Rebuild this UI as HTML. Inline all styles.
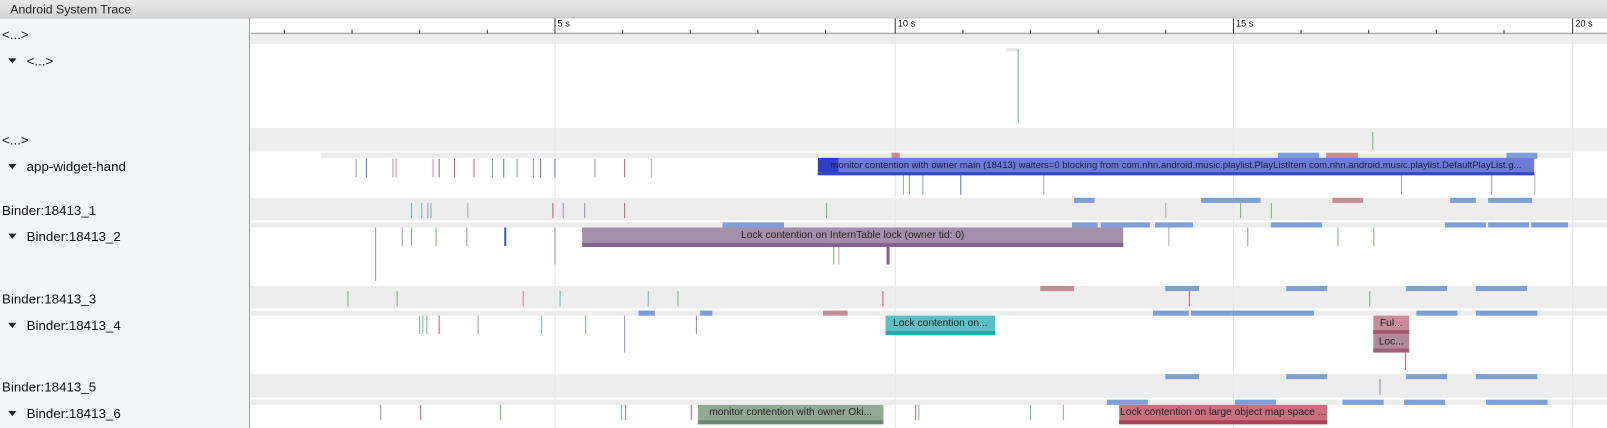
<!DOCTYPE html>
<html><head><meta charset="utf-8"><style>
*{margin:0;padding:0;box-sizing:border-box}
body{width:1607px;height:428px;overflow:hidden;background:#fff;font-family:"Liberation Sans",sans-serif;position:relative}
#w{position:absolute;left:0;top:0;width:1568px;height:418px;transform:scale(1.02487);transform-origin:0 0;overflow:hidden}
#w div{position:absolute}
.hdr{left:0;top:0;width:1568px;height:18px;background:linear-gradient(#e8e8e8,#d4d4d4);border-bottom:1px solid #bbb;font-size:12px;line-height:18px;padding-left:10px;color:#222}
.left{left:0;top:18px;width:244px;height:410px;background:#f3f4f6;border-right:1px solid #999}
.lb{font-size:13px;color:#111;white-space:nowrap}
.tri{display:inline-block;width:0;height:0;border-left:4px solid transparent;border-right:4px solid transparent;border-top:5px solid #222;margin:0 10px 2px 8px;vertical-align:middle}
.g{background:#ededed;left:245px;width:1323px}
.s{background:#ececec;left:245px;width:1323px;height:5px}
.gl{width:1px;background:#e6e6e6;top:33px;height:395px}
.t{width:1px}
.sl{font-size:10px;color:#111;text-align:center;line-height:15px;white-space:nowrap;overflow:hidden}
</style></head><body><div id="w">
<div class="hdr">Android System Trace</div>
<div class="left"></div>
<div style="left:245px;top:18px;width:1323px;height:15px;background:#fff;border-bottom:1px solid #888"></div>
<div style="left:541px;top:18px;width:1px;height:15px;background:#333"></div><div class="lb" style="left:544px;top:18px;font-size:9px">5 s</div>
<div style="left:873px;top:18px;width:1px;height:15px;background:#333"></div><div class="lb" style="left:876px;top:18px;font-size:9px">10 s</div>
<div style="left:1203px;top:18px;width:1px;height:15px;background:#333"></div><div class="lb" style="left:1206px;top:18px;font-size:9px">15 s</div>
<div style="left:1534px;top:18px;width:1px;height:15px;background:#333"></div><div class="lb" style="left:1537px;top:18px;font-size:9px">20 s</div>
<div style="left:277px;top:29px;width:1px;height:4px;background:#333"></div>
<div style="left:343px;top:29px;width:1px;height:4px;background:#333"></div>
<div style="left:409px;top:29px;width:1px;height:4px;background:#333"></div>
<div style="left:475px;top:29px;width:1px;height:4px;background:#333"></div>
<div style="left:607px;top:29px;width:1px;height:4px;background:#333"></div>
<div style="left:673px;top:29px;width:1px;height:4px;background:#333"></div>
<div style="left:739px;top:29px;width:1px;height:4px;background:#333"></div>
<div style="left:805px;top:29px;width:1px;height:4px;background:#333"></div>
<div style="left:939px;top:29px;width:1px;height:4px;background:#333"></div>
<div style="left:1005px;top:29px;width:1px;height:4px;background:#333"></div>
<div style="left:1071px;top:29px;width:1px;height:4px;background:#333"></div>
<div style="left:1137px;top:29px;width:1px;height:4px;background:#333"></div>
<div style="left:1269px;top:29px;width:1px;height:4px;background:#333"></div>
<div style="left:1335px;top:29px;width:1px;height:4px;background:#333"></div>
<div style="left:1401px;top:29px;width:1px;height:4px;background:#333"></div>
<div style="left:1467px;top:29px;width:1px;height:4px;background:#333"></div>
<div style="left:963px;top:33px;width:2px;height:8px;background:#d9a8a8"></div>
<div class="g" style="top:33px;height:10px"></div>
<div class="g" style="top:125px;height:23px"></div>
<div class="s" style="top:149px;left:313px;width:1220px"></div>
<div class="g" style="top:193px;height:22px"></div>
<div class="s" style="top:217px"></div>
<div class="g" style="top:279px;height:22px"></div>
<div class="s" style="top:303px"></div>
<div class="g" style="top:365px;height:23px"></div>
<div class="s" style="top:390px"></div>
<div class="gl" style="left:541px"></div><div class="gl" style="left:873px"></div><div class="gl" style="left:1203px"></div><div class="gl" style="left:1534px"></div>
<div class="lb" style="left:2px;top:26px">&lt;...&gt;</div>
<div class="lb" style="left:0;top:52px"><span class="tri"></span>&lt;...&gt;</div>
<div class="lb" style="left:2px;top:129px">&lt;...&gt;</div>
<div class="lb" style="left:0;top:155px"><span class="tri"></span>app-widget-hand</div>
<div class="lb" style="left:2px;top:198px">Binder:18413_1</div>
<div class="lb" style="left:0;top:223px"><span class="tri"></span>Binder:18413_2</div>
<div class="lb" style="left:2px;top:284px">Binder:18413_3</div>
<div class="lb" style="left:0;top:310px"><span class="tri"></span>Binder:18413_4</div>
<div class="lb" style="left:2px;top:370px">Binder:18413_5</div>
<div class="lb" style="left:0;top:396px"><span class="tri"></span>Binder:18413_6</div>
<div style="left:982px;top:47px;width:12px;height:3px;background:#e4e4e4"></div>
<div style="left:993px;top:48px;width:1px;height:72px;background:#6fb3b8"></div>
<div style="left:1339px;top:129px;width:1px;height:17px;background:#7ab37a"></div>
<div style="left:1247px;top:149px;width:40px;height:6px;background:#7b9fd8"></div>
<div style="left:1294px;top:149px;width:31px;height:6px;background:#c98a9a"></div>
<div style="left:1470px;top:149px;width:30px;height:6px;background:#7b9fd8"></div>
<div style="left:870px;top:149px;width:8px;height:6px;background:#c98a9a"></div>
<div style="left:1172px;top:193px;width:58px;height:5px;background:#7b9fd8"></div>
<div style="left:1300px;top:193px;width:30px;height:5px;background:#c98a9a"></div>
<div style="left:1415px;top:193px;width:25px;height:5px;background:#7b9fd8"></div>
<div style="left:1452px;top:193px;width:43px;height:5px;background:#7b9fd8"></div>
<div style="left:1048px;top:193px;width:20px;height:5px;background:#7b9fd8"></div>
<div style="left:705px;top:217px;width:60px;height:5px;background:#7b9fd8"></div>
<div style="left:1046px;top:217px;width:25px;height:5px;background:#7b9fd8"></div>
<div style="left:1074px;top:217px;width:48px;height:5px;background:#7b9fd8"></div>
<div style="left:1127px;top:217px;width:37px;height:5px;background:#7b9fd8"></div>
<div style="left:1240px;top:217px;width:50px;height:5px;background:#7b9fd8"></div>
<div style="left:1410px;top:217px;width:40px;height:5px;background:#7b9fd8"></div>
<div style="left:1452px;top:217px;width:40px;height:5px;background:#7b9fd8"></div>
<div style="left:1494px;top:217px;width:36px;height:5px;background:#7b9fd8"></div>
<div style="left:1015px;top:279px;width:33px;height:5px;background:#c98a9a"></div>
<div style="left:1137px;top:279px;width:33px;height:5px;background:#7b9fd8"></div>
<div style="left:1255px;top:279px;width:40px;height:5px;background:#7b9fd8"></div>
<div style="left:1372px;top:279px;width:40px;height:5px;background:#7b9fd8"></div>
<div style="left:1440px;top:279px;width:50px;height:5px;background:#7b9fd8"></div>
<div style="left:623px;top:303px;width:16px;height:5px;background:#7b9fd8"></div>
<div style="left:683px;top:303px;width:12px;height:5px;background:#7b9fd8"></div>
<div style="left:803px;top:303px;width:24px;height:5px;background:#c98a9a"></div>
<div style="left:1125px;top:303px;width:35px;height:5px;background:#7b9fd8"></div>
<div style="left:1162px;top:303px;width:40px;height:5px;background:#7b9fd8"></div>
<div style="left:1202px;top:303px;width:80px;height:5px;background:#7b9fd8"></div>
<div style="left:1382px;top:303px;width:40px;height:5px;background:#7b9fd8"></div>
<div style="left:1440px;top:303px;width:60px;height:5px;background:#7b9fd8"></div>
<div style="left:1137px;top:365px;width:33px;height:5px;background:#7b9fd8"></div>
<div style="left:1255px;top:365px;width:40px;height:5px;background:#7b9fd8"></div>
<div style="left:1372px;top:365px;width:40px;height:5px;background:#7b9fd8"></div>
<div style="left:1440px;top:365px;width:60px;height:5px;background:#7b9fd8"></div>
<div style="left:1080px;top:390px;width:40px;height:5px;background:#7b9fd8"></div>
<div style="left:1205px;top:390px;width:40px;height:5px;background:#7b9fd8"></div>
<div style="left:1310px;top:390px;width:40px;height:5px;background:#7b9fd8"></div>
<div style="left:1370px;top:390px;width:40px;height:5px;background:#7b9fd8"></div>
<div style="left:1450px;top:390px;width:60px;height:5px;background:#7b9fd8"></div>
<div class="t" style="left:347px;top:155px;height:18px;background:#8a9ac8"></div>
<div class="t" style="left:357px;top:155px;height:18px;background:#5d6fd0"></div>
<div class="t" style="left:383px;top:155px;height:18px;background:#a58fae"></div>
<div class="t" style="left:386px;top:155px;height:18px;background:#c98a9a"></div>
<div class="t" style="left:422px;top:155px;height:18px;background:#c98a9a"></div>
<div class="t" style="left:428px;top:155px;height:18px;background:#5d6fd0"></div>
<div class="t" style="left:443px;top:155px;height:18px;background:#c06070"></div>
<div class="t" style="left:462px;top:155px;height:18px;background:#c06070"></div>
<div class="t" style="left:480px;top:155px;height:18px;background:#8a9ac8"></div>
<div class="t" style="left:491px;top:155px;height:18px;background:#5d6fd0"></div>
<div class="t" style="left:504px;top:155px;height:18px;background:#7ab37a"></div>
<div class="t" style="left:520px;top:155px;height:18px;background:#a58fae"></div>
<div class="t" style="left:527px;top:155px;height:18px;background:#5d6fd0"></div>
<div class="t" style="left:541px;top:155px;height:18px;background:#5d6fd0"></div>
<div class="t" style="left:580px;top:155px;height:18px;background:#a58fae"></div>
<div class="t" style="left:609px;top:155px;height:18px;background:#c06070"></div>
<div class="t" style="left:635px;top:155px;height:18px;background:#aaa"></div>
<div class="t" style="left:881px;top:170px;height:20px;background:#aaa"></div>
<div class="t" style="left:887px;top:170px;height:20px;background:#7ab37a"></div>
<div class="t" style="left:900px;top:170px;height:20px;background:#7ab37a"></div>
<div class="t" style="left:937px;top:170px;height:20px;background:#5d6fd0"></div>
<div class="t" style="left:1018px;top:170px;height:20px;background:#aaa"></div>
<div class="t" style="left:1367px;top:170px;height:20px;background:#aaa"></div>
<div class="t" style="left:1455px;top:170px;height:20px;background:#a58fae"></div>
<div class="t" style="left:1497px;top:170px;height:20px;background:#aaa"></div>
<div class="t" style="left:401px;top:198px;height:15px;background:#6fb3b8"></div>
<div class="t" style="left:411px;top:198px;height:15px;background:#6fb3b8"></div>
<div class="t" style="left:417px;top:198px;height:15px;background:#a58fae"></div>
<div class="t" style="left:420px;top:198px;height:15px;background:#6fb3b8"></div>
<div class="t" style="left:456px;top:198px;height:15px;background:#aaa"></div>
<div class="t" style="left:539px;top:198px;height:15px;background:#c06070"></div>
<div class="t" style="left:549px;top:198px;height:15px;background:#a58fae"></div>
<div class="t" style="left:570px;top:198px;height:15px;background:#a58fae"></div>
<div class="t" style="left:609px;top:198px;height:15px;background:#c06070"></div>
<div class="t" style="left:806px;top:198px;height:15px;background:#7ab37a"></div>
<div class="t" style="left:1240px;top:198px;height:15px;background:#7ab37a"></div>
<div class="t" style="left:1137px;top:198px;height:15px;background:#aaa"></div>
<div class="t" style="left:1210px;top:198px;height:15px;background:#7ab37a"></div>
<div class="t" style="left:366px;top:222px;height:52px;background:#a58fae"></div>
<div class="t" style="left:392px;top:222px;height:18px;background:#a58fae"></div>
<div class="t" style="left:401px;top:222px;height:18px;background:#7ab37a"></div>
<div class="t" style="left:425px;top:222px;height:18px;background:#7ab37a"></div>
<div class="t" style="left:455px;top:222px;height:18px;background:#a58fae"></div>
<div class="t" style="left:492px;top:222px;width:2px;height:18px;background:#3d5cc0"></div>
<div class="t" style="left:541px;top:222px;height:36px;background:#a58fae"></div>
<div class="t" style="left:813px;top:240px;height:18px;background:#7ab37a"></div>
<div class="t" style="left:818px;top:240px;height:18px;background:#aaa"></div>
<div class="t" style="left:865px;top:240px;width:3px;height:18px;background:#86648f"></div>
<div class="t" style="left:1140px;top:222px;height:18px;background:#aaa"></div>
<div class="t" style="left:1217px;top:222px;height:18px;background:#a58fae"></div>
<div class="t" style="left:1305px;top:222px;height:18px;background:#7ab37a"></div>
<div class="t" style="left:1340px;top:222px;height:18px;background:#7ab37a"></div>
<div class="t" style="left:339px;top:284px;height:15px;background:#7ab37a"></div>
<div class="t" style="left:387px;top:284px;height:15px;background:#7ab37a"></div>
<div class="t" style="left:510px;top:284px;height:15px;background:#c98a9a"></div>
<div class="t" style="left:546px;top:284px;height:15px;background:#6fb3b8"></div>
<div class="t" style="left:632px;top:284px;height:15px;background:#6fb3b8"></div>
<div class="t" style="left:661px;top:284px;height:15px;background:#7ab37a"></div>
<div class="t" style="left:861px;top:284px;height:15px;background:#c06070"></div>
<div class="t" style="left:1160px;top:284px;height:15px;background:#c06070"></div>
<div class="t" style="left:1336px;top:284px;height:15px;background:#7ab37a"></div>
<div class="t" style="left:409px;top:308px;height:18px;background:#7ab37a"></div>
<div class="t" style="left:412px;top:308px;height:18px;background:#6fb3b8"></div>
<div class="t" style="left:416px;top:308px;height:18px;background:#7ab37a"></div>
<div class="t" style="left:428px;top:308px;height:18px;background:#c06070"></div>
<div class="t" style="left:466px;top:308px;height:18px;background:#a58fae"></div>
<div class="t" style="left:528px;top:308px;height:18px;background:#6fb3b8"></div>
<div class="t" style="left:571px;top:308px;height:18px;background:#7ab37a"></div>
<div class="t" style="left:609px;top:308px;height:36px;background:#a58fae"></div>
<div class="t" style="left:679px;top:308px;height:18px;background:#8a8a9a"></div>
<div class="t" style="left:1371px;top:343px;height:18px;background:#c06070"></div>
<div class="t" style="left:371px;top:395px;height:15px;background:#a58fae"></div>
<div class="t" style="left:410px;top:395px;height:15px;background:#c06070"></div>
<div class="t" style="left:488px;top:395px;height:15px;background:#7ab37a"></div>
<div class="t" style="left:606px;top:395px;height:15px;background:#6fb3b8"></div>
<div class="t" style="left:610px;top:395px;height:15px;background:#c06070"></div>
<div class="t" style="left:674px;top:395px;height:15px;background:#c06070"></div>
<div class="t" style="left:893px;top:395px;height:15px;background:#c06070"></div>
<div class="t" style="left:896px;top:395px;height:15px;background:#7ab37a"></div>
<div class="t" style="left:1005px;top:395px;height:15px;background:#6fb3b8"></div>
<div class="t" style="left:1037px;top:395px;height:15px;background:#c98a9a"></div>
<div class="t" style="left:1346px;top:370px;height:15px;background:#8a8a9a"></div>
<div class="sl" style="left:798px;top:154px;width:699px;height:17px;background:#6c7bd8;border-bottom:3px solid #3344c4;color:#1a1a40;font-size:9.3px;line-height:14px"><div style="left:0;top:0;width:20px;height:14px;background:#2f3ec8"></div><span style="position:relative">monitor contention with owner main (18413) waiters=0 blocking from com.nhn.android.music.playlist.PlayListItem com.nhn.android.music.playlist.DefaultPlayList.g...</span></div>
<div class="sl" style="left:568px;top:222px;width:528px;height:19px;background:#a58fae;border-bottom:4px solid #86648f;color:#222">Lock contention on InternTable lock (owner tid: 0)</div>
<div class="sl" style="left:864px;top:308px;width:107px;height:19px;background:#5bbfc5;border-bottom:4px solid #1aaab0;color:#222">Lock contention on...</div>
<div class="sl" style="left:1340px;top:308px;width:35px;height:18px;background:#c98a9a;border-bottom:4px solid #a85570;color:#222">Ful...</div>
<div class="sl" style="left:1340px;top:326px;width:35px;height:18px;background:#b08a9a;border-bottom:4px solid #a06078;color:#222">Loc...</div>
<div class="sl" style="left:681px;top:395px;width:181px;height:19px;background:#8fa992;border-bottom:4px solid #6b8b70;color:#222">monitor contention with owner Oki...</div>
<div class="sl" style="left:1092px;top:395px;width:203px;height:19px;background:#c9707f;border-bottom:4px solid #b04356;color:#222">Lock contention on large object map space ...</div>
</div></body></html>
